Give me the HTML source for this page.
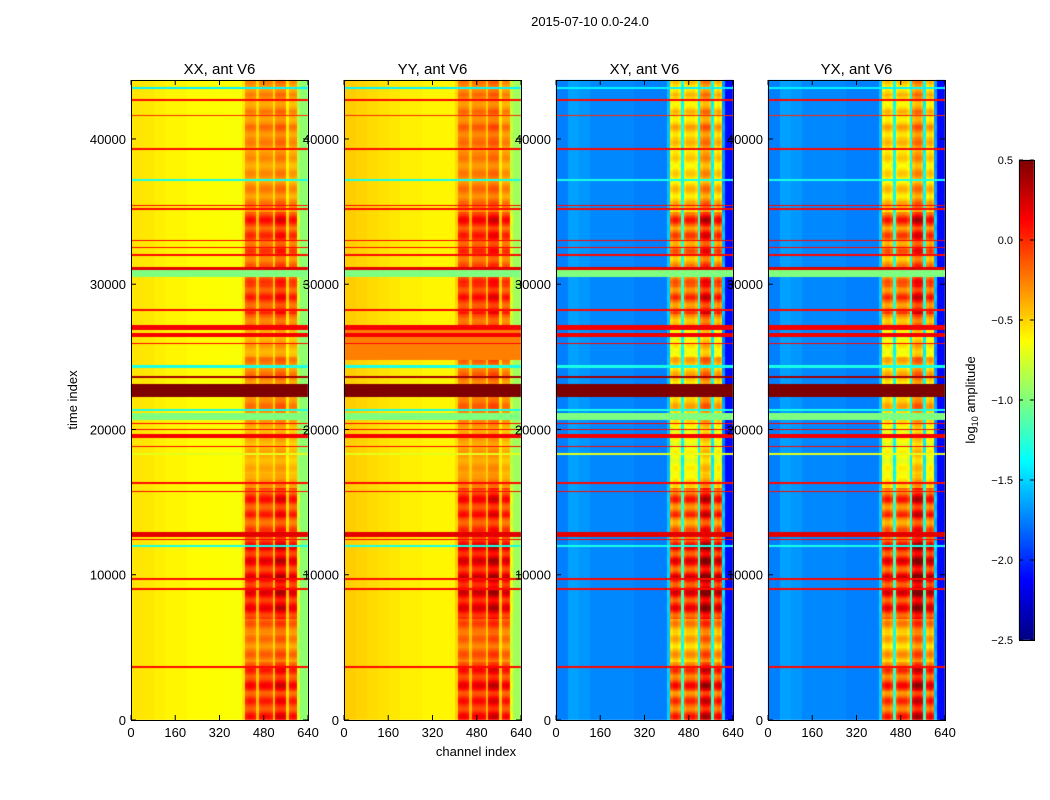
<!DOCTYPE html>
<html><head><meta charset="utf-8"><style>
body{margin:0;background:#fff;font-family:"Liberation Sans",sans-serif;}
#wrap{position:relative;width:1050px;height:800px;overflow:hidden;}
</style></head><body>
<div id="wrap">
<svg id="svg" width="1050" height="800" style="position:absolute;left:0;top:0"></svg>
</div>
<script>
// ---- data ----
const panelTitles = ["XX, ant V6","YY, ant V6","XY, ant V6","YX, ant V6"];
const xTicks = [0,160,320,480,640];
const yTicks = [0,10000,20000,30000,40000];
const cbTicks = [0.5,0.0,-0.5,-1.0,-1.5,-2.0,-2.5];
// base log amplitude per 40-channel bin
const baseXX = [-0.55,-0.56,-0.58,-0.6,-0.6,-0.62,-0.62,-0.63,-0.63,-0.64,-0.6,-0.6,-0.6,-0.6,-0.68,-0.95];
const baseYY = [-0.48,-0.5,-0.52,-0.54,-0.56,-0.58,-0.58,-0.6,-0.6,-0.6,-0.55,-0.55,-0.55,-0.55,-0.65,-0.9];
const baseXY = [-1.75,-1.65,-1.68,-1.72,-1.72,-1.72,-1.72,-1.75,-1.75,-1.75,-1.7,-1.7,-1.7,-1.7,-1.8,-2.1];
const baseYX = [-1.75,-1.65,-1.68,-1.72,-1.72,-1.72,-1.72,-1.75,-1.75,-1.75,-1.7,-1.7,-1.7,-1.7,-1.8,-2.1];
// RFI column weights per 10-channel bin (64 bins)
const rfiCols = [0,0,0,0,0,0,0,0,0,0,0,0,0,0,0,0,0,0,0,0,0,0,0,0,0,0,0,0,0,0,0,0,0,0,0,0,0,0,0,0,0.1,
  0.8,0.85,0.85,0.8,0.25,0.8,0.85,0.85,0.85,0.8,0.25,0.95,1.0,1.0,0.95,0.3,0.9,0.95,0.9,0.3,0,0,0];
// RFI intensity per 1000-sample time block (0..43)
const rfiTime = [0.85,0.8,0.9,0.8,0.55,0.5,0.6,0.95,1.0,1.0,0.95,1.0,0.9,0.7,0.8,0.85,0.4,0.3,0.3,0.3,0.35,0.5,0.55,0.5,0.5,0.35,0.3,0.6,0.75,0.8,0.7,0.6,0.7,0.75,0.85,0.5,0.45,0.4,0.4,0.45,0.5,0.45,0.4,0.45];
// horizontal events: [startTime, endTime, value]
const hLines = [[43450,43600,-1.4],[42650,42800,0.1],[41600,41700,0.0],[39250,39400,0.1],[37150,37300,-1.3],
  [35400,35500,0.1],[35150,35250,0.1],[33000,33100,0.1],[32500,32600,0.1],[32000,32100,0.1],
  [31000,31250,0.2],[30550,31000,-1.0],[28200,28350,0.1],[26900,27200,0.15],[26400,26700,0.15],[25900,26000,0.1],
  [24300,24450,-1.3],[23600,23700,0.4],[22300,23200,0.5],[21300,21450,-1.3],[20700,21200,-1.0],[20400,20500,0.1],
  [20000,20100,0.1],[19450,19700,0.15],[18800,18900,0.1],[18300,18400,-0.7],[16300,16400,0.1],[15700,15800,0.1],
  [12650,12950,0.2],[12400,12500,0.1],[11950,12050,-1.3],[9700,9800,0.1],[9000,9100,0.1],[3600,3750,0.1]];
const yyBand = [[24800,27000,-0.25]];
// ---- layout ----
const panelsX=[131,344,556,768], PW=177, PT=80, PB=720, TMAX=44060;
const svg=document.getElementById('svg'), NS="http://www.w3.org/2000/svg";
function mk(t,a,txt){const e=document.createElementNS(NS,t);for(const k in a)e.setAttribute(k,a[k]);if(txt!==undefined)e.textContent=txt;svg.appendChild(e);return e;}
function jet(v){v=Math.max(0,Math.min(1,v));
  const r=Math.max(0,Math.min(1,1.5-Math.abs(4*v-3))),g=Math.max(0,Math.min(1,1.5-Math.abs(4*v-2))),b=Math.max(0,Math.min(1,1.5-Math.abs(4*v-1)));
  return [r*255|0,g*255|0,b*255|0];}
const norm=v=>(v+2.5)/3;
const xs=c=>c/640*PW, ys=t=>PB-t/TMAX*(PB-PT);
const bases=[baseXX,baseYY,baseXY,baseYX];
const cv=document.createElement('canvas');cv.width=1050;cv.height=800;
const ctx=cv.getContext('2d');const img=ctx.createImageData(1050,800);
for(let p=0;p<4;p++){
  const cross=p>=2;
  for(let py=PT;py<PB;py++){
    const t=(PB-py)/(PB-PT)*TMAX;const tb=Math.min(43,Math.floor(t/1000));
    const tn=rfiTime[tb]*(0.9+0.2*Math.sin(t/170));
    let line=null;for(const h of hLines)if(t>=h[0]&&t<h[1])line=h[2];
    if(p===1)for(const h of yyBand)if(t>=h[0]&&t<h[1]&&line===null)line=h[2];
    for(let px=0;px<PW;px++){
      const c=px/PW*640;let v;
      if(line!==null)v=line;
      else{const w=rfiCols[Math.min(63,Math.floor(c/10))];
        v=bases[p][Math.min(15,Math.floor(c/40))];
        if(w>0)v+=cross?w*(0.9+tn*1.3):w*tn*0.9;}
      const col=jet(norm(v));const i=(py*1050+panelsX[p]+px)*4;
      img.data[i]=col[0];img.data[i+1]=col[1];img.data[i+2]=col[2];img.data[i+3]=255;}
  }
}
// colorbar
for(let py=160;py<640;py++){const col=jet((640-py)/480);for(let px=1019;px<1034;px++){const i=(py*1050+px)*4;img.data[i]=col[0];img.data[i+1]=col[1];img.data[i+2]=col[2];img.data[i+3]=255;}}
ctx.putImageData(img,0,0);
const im=mk('image',{x:0,y:0,width:1050,height:800,href:cv.toDataURL()});


// axes
panelTitles.forEach((ttl,p)=>{
  const x0=panelsX[p];
  const fr=mk('rect',{x:x0+0.5,y:PT+0.5,width:PW,height:PB-PT,fill:'none',stroke:'#000','stroke-width':1});
  
  const tt=mk('text',{x:x0+PW/2,y:74,'text-anchor':'middle','font-size':15},ttl);
  
  xTicks.forEach(v=>{const x=x0+xs(v);
    mk('line',{x1:x,x2:x,y1:PB,y2:PB-5,stroke:'#000'});mk('line',{x1:x,x2:x,y1:PT,y2:PT+5,stroke:'#000'});
    const l=mk('text',{x:x,y:737,'text-anchor':'middle','font-size':13},v);
    });
  yTicks.forEach(v=>{const y=ys(v);
    mk('line',{x1:x0,x2:x0+5,y1:y,y2:y,stroke:'#000'});mk('line',{x1:x0+PW,x2:x0+PW-5,y1:y,y2:y,stroke:'#000'});
    const l=mk('text',{x:x0-5,y:y+5,'text-anchor':'end','font-size':13},v);
    });
});
const cb=mk('rect',{x:1019.5,y:160.5,width:15,height:480,fill:'none',stroke:'#000'});

cbTicks.forEach(v=>{const y=640-(v+2.5)/3*480;
  mk('line',{x1:1019,x2:1023,y1:y,y2:y,stroke:'#000'});mk('line',{x1:1034,x2:1030,y1:y,y2:y,stroke:'#000'});
  const l=mk('text',{x:1013,y:y+4,'text-anchor':'end','font-size':11},(v<0?'\u2212'+(-v).toFixed(1):v.toFixed(1)));
  });
let e;
e=mk('text',{x:590,y:26,'text-anchor':'middle','font-size':13},'2015-07-10 0.0-24.0');
e=mk('text',{x:0,y:0,'text-anchor':'middle','font-size':13,transform:'translate(77,400) rotate(-90)'},'time index');
e=mk('text',{x:476,y:756,'text-anchor':'middle','font-size':13},'channel index');
e=mk('text',{x:0,y:0,'text-anchor':'middle','font-size':13,transform:'translate(975,400) rotate(-90)'});
e.innerHTML='log<tspan font-size="9" dy="3">10</tspan><tspan dy="-3"> amplitude</tspan>';

</script>
</body></html>
